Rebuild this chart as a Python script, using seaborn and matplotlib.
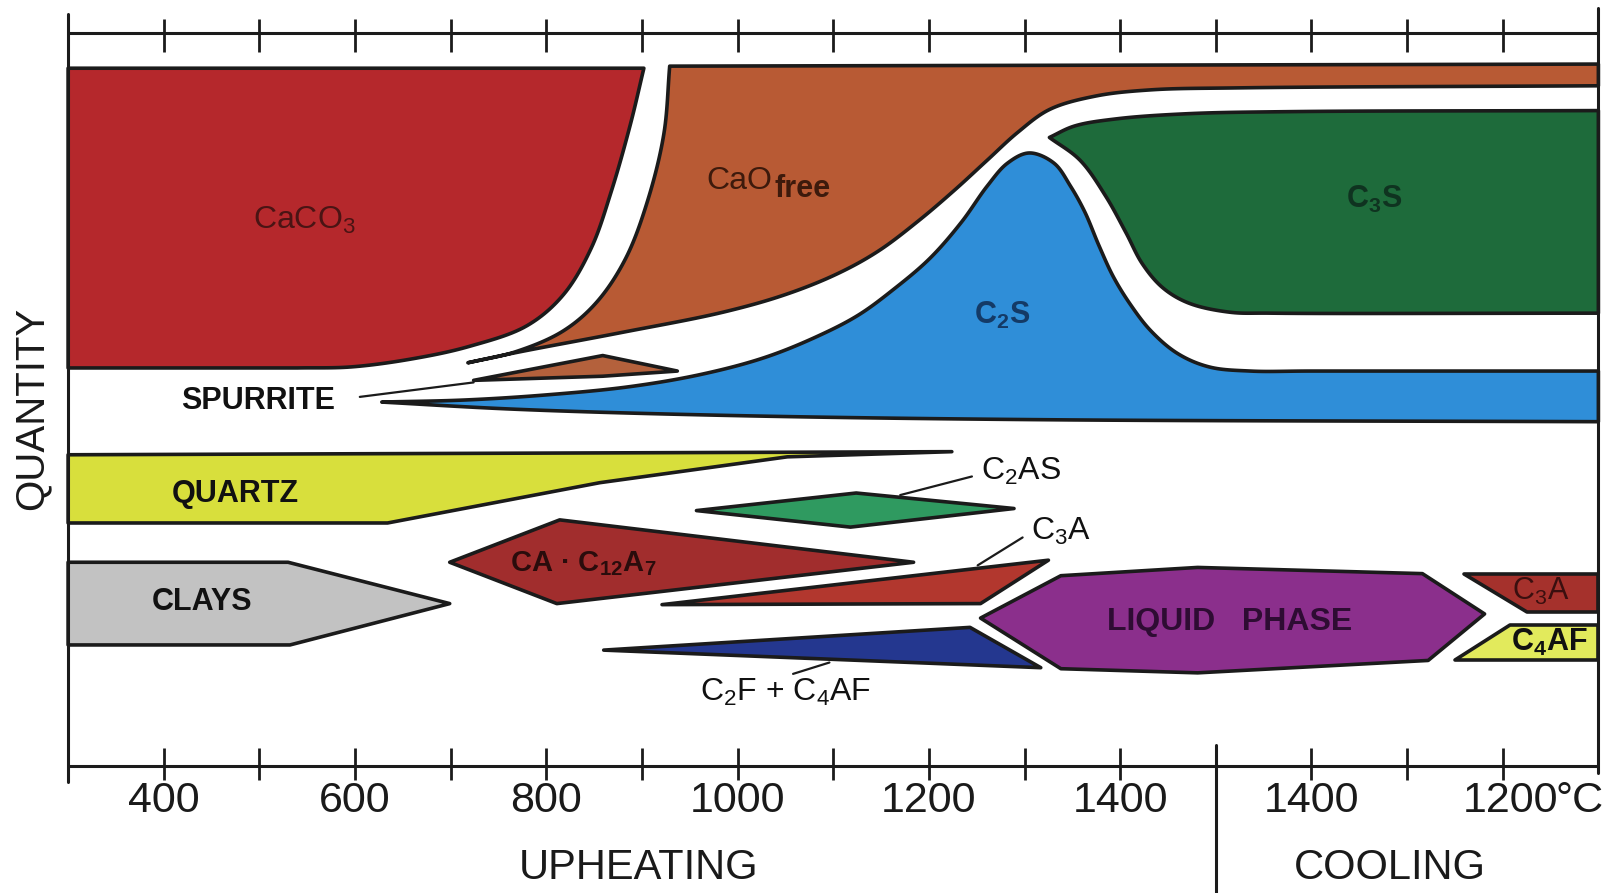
import numpy as np
import matplotlib
matplotlib.use("Agg")
import matplotlib.pyplot as plt
import seaborn as sns

# ---------------- data (x = temperature position: 300..1500 upheating, 1500..1900 = cooling 1500..1100 °C;
#                         y = relative quantity level) ----------------
caco3_curve_T = [902, 888, 868, 847, 818, 780, 720, 661, 596, 540]
caco3_curve_Q = [675, 621, 556, 501, 456, 426, 406, 394, 386, 385]

cao_left_T = [929, 923, 906, 883, 853, 818, 769, 718]
cao_left_Q = [677, 612, 547, 491, 449, 421, 401, 390]
cao_bottom_T = [718, 769, 877, 985, 1050, 1104, 1147, 1190, 1228, 1261, 1293, 1326, 1374, 1431, 1525, 1900]
cao_bottom_Q = [390, 400, 419, 439, 456, 476, 498, 528, 558, 586, 613, 635, 648, 654, 656, 658]
cao_top_right_Q = 679

c2s_top_T = [628, 715, 801, 888, 963, 1028, 1082, 1126, 1163, 1201, 1234, 1261, 1282, 1305,
             1331, 1348, 1363, 1378, 1393, 1411, 1432, 1460, 1493, 1536, 1600, 1900]
c2s_top_Q = [352, 354, 359, 367, 379, 395, 415, 436, 461, 491, 526, 561, 583, 593,
             583, 561, 536, 503, 473, 446, 421, 399, 386, 382, 382, 382]
c2s_bottom_T = [1900, 1309, 993, 769, 628]
c2s_bottom_Q = [333, 335, 339, 345, 352]

c3s_top_T = [1326, 1352, 1396, 1471, 1579, 1900]
c3s_top_Q = [608, 619, 626, 631, 633, 634]
c3s_bottom_T = [1900, 1558, 1514, 1471, 1444, 1423, 1406, 1385, 1358, 1326]
c3s_bottom_Q = [438, 438, 439, 448, 463, 486, 516, 551, 586, 608]

spurrite_T = [724, 859, 937, 859]
spurrite_Q = [373, 397, 382, 377]

quartz_T = [300, 1224, 1052, 856, 634, 300]
quartz_Q = [301, 304, 299, 274, 235, 235]

clays_T = [300, 530, 699, 532, 300]
clays_Q = [197, 197, 157, 117, 117]

ca_c12a7_T = [699, 814, 1184, 811]
ca_c12a7_Q = [197, 238, 197, 157]

c2as_T = [957, 1124, 1289, 1118]
c2as_Q = [247, 264, 249, 231]

c3a_heat_T = [921, 1325, 1254]
c3a_heat_Q = [156, 199, 157]

c2f_c4af_T = [860, 1243, 1317]
c2f_c4af_Q = [112, 134, 95]

liquid_T = [1254, 1338, 1481, 1716, 1781, 1722, 1481, 1338]
liquid_Q = [143, 184, 192, 186, 147, 102, 90, 94]

c3a_cool_T = [1760, 1900, 1900, 1825]
c3a_cool_Q = [186, 186, 149, 149]

c4af_cool_T = [1808, 1900, 1900, 1750]
c4af_cool_Q = [136, 136, 102, 102]

# leader lines
leader_spurrite_T = [605, 724]
leader_spurrite_Q = [357, 371]
leader_c2as_T = [1170, 1245]
leader_c2as_Q = [262, 280]
leader_c3a_T = [1251, 1298]
leader_c3a_Q = [194, 221]
leader_c2f_T = [1096, 1058]
leader_c2f_Q = [100, 89]

# axis ticks
top_ticks = [400, 500, 600, 700, 800, 900, 1000, 1100, 1200, 1300, 1400, 1500, 1600, 1700, 1800]
bottom_ticks = [400, 500, 600, 700, 800, 900, 1000, 1100, 1200, 1300, 1400, 1600, 1700, 1800]
tick_label_pos = [400, 600, 800, 1000, 1200, 1400, 1600]
tick_label_txt = ["400", "600", "800", "1000", "1200", "1400", "1400"]

# ---------------- style ----------------
sns.set_theme(style="white")
plt.rcParams['font.family'] = ['Liberation Sans', 'DejaVu Sans']
plt.rcParams['mathtext.default'] = 'regular'

EDGE = '#1b1b1b'
LW = 2.6


def cr(T, Q, n=14, alpha=0.5):
    """Centripetal Catmull-Rom path through the given points (drawing only)."""
    P = np.column_stack([T, Q]).astype(float)
    E = np.vstack([2 * P[0] - P[1], P, 2 * P[-1] - P[-2]])
    out = []
    for i in range(1, len(E) - 2):
        p0, p1, p2, p3 = E[i - 1], E[i], E[i + 1], E[i + 2]
        t0 = 0.0
        t1 = t0 + max(np.linalg.norm(p1 - p0), 1e-6) ** alpha
        t2 = t1 + max(np.linalg.norm(p2 - p1), 1e-6) ** alpha
        t3 = t2 + max(np.linalg.norm(p3 - p2), 1e-6) ** alpha
        t = np.linspace(t1, t2, n, endpoint=False)[:, None]
        A1 = (t1 - t) / (t1 - t0) * p0 + (t - t0) / (t1 - t0) * p1
        A2 = (t2 - t) / (t2 - t1) * p1 + (t - t1) / (t2 - t1) * p2
        A3 = (t3 - t) / (t3 - t2) * p2 + (t - t2) / (t3 - t2) * p3
        B1 = (t2 - t) / (t2 - t0) * A1 + (t - t0) / (t2 - t0) * A2
        B2 = (t3 - t) / (t3 - t1) * A2 + (t - t1) / (t3 - t1) * A3
        out.append((t2 - t) / (t2 - t1) * B1 + (t - t1) / (t2 - t1) * B2)
    out.append(P[-1:])
    return np.vstack(out)


fig = plt.figure(figsize=(16.2, 8.93), dpi=100)
ax = fig.add_axes([0, 0, 1, 1])
ax.set_xlim(228.8, 1922.6)
ax.set_ylim(-123, 741)
ax.axis('off')


def region(pts, color):
    pts = np.asarray(pts)
    ax.fill(pts[:, 0], pts[:, 1], facecolor=color, edgecolor=EDGE, linewidth=LW,
            joinstyle='round', zorder=3)


# CaCO3
cc = cr(caco3_curve_T, caco3_curve_Q)
region(np.vstack([[[300, caco3_curve_Q[0]]], cc, [[300, caco3_curve_Q[-1]]]]), '#b5282c')

# CaO free
left = cr(cao_left_T, cao_left_Q)
bot = cr(cao_bottom_T, cao_bottom_Q)
region(np.vstack([left, bot[1:], [[1900, cao_top_right_Q]]]), '#b85a34')

# C2S
top = cr(c2s_top_T, c2s_top_Q)
bot = cr(c2s_bottom_T, c2s_bottom_Q)
region(np.vstack([top, bot]), '#2f8ed8')

# C3S
top = cr(c3s_top_T, c3s_top_Q)
bot = cr(c3s_bottom_T, c3s_bottom_Q)
region(np.vstack([top, bot]), '#1e6b3b')

simple = [
    (spurrite_T, spurrite_Q, '#b4613c'),
    (quartz_T, quartz_Q, '#d8df3c'),
    (clays_T, clays_Q, '#c2c2c2'),
    (ca_c12a7_T, ca_c12a7_Q, '#a12d2d'),
    (c2as_T, c2as_Q, '#2f9a60'),
    (c3a_heat_T, c3a_heat_Q, '#b2372e'),
    (c2f_c4af_T, c2f_c4af_Q, '#24378f'),
    (liquid_T, liquid_Q, '#8b2f8c'),
    (c3a_cool_T, c3a_cool_Q, '#a5312c'),
    (c4af_cool_T, c4af_cool_Q, '#e2ea5c'),
]
for T, Q, c in simple:
    region(np.column_stack([T, Q]), c)

# leader lines
for T, Q in [(leader_spurrite_T, leader_spurrite_Q), (leader_c2as_T, leader_c2as_Q),
             (leader_c3a_T, leader_c3a_Q), (leader_c2f_T, leader_c2f_Q)]:
    sns.lineplot(x=T, y=Q, sort=False, estimator=None, color=EDGE, linewidth=1.6, ax=ax, zorder=4)

# frame
frame = [([300, 300], [727, -16]), ([300, 1900], [0, 0]), ([300, 1900], [709, 709]),
         ([1900, 1900], [733, -7]), ([1500, 1500], [20, -123])]
for T, Q in frame:
    sns.lineplot(x=T, y=Q, sort=False, estimator=None, color=EDGE, linewidth=2.2, ax=ax, zorder=5)
ax.vlines(top_ticks, 691, 723, color=EDGE, linewidth=2.0, zorder=5)
ax.vlines(bottom_ticks, -14, 17, color=EDGE, linewidth=2.0, zorder=5)

# tick labels
for p, s in zip(tick_label_pos, tick_label_txt):
    ax.text(p, -34, s, ha='center', va='center', fontsize=31, color='#1a1a1a', zorder=6)
ax.text(1808, -34, "1200", ha='center', va='center', fontsize=31, color='#1a1a1a')
ax.text(1855, -34, "°C", ha='left', va='center', fontsize=31, color='#1a1a1a')

ax.text(896, -99, "UPHEATING", ha='center', va='center', fontsize=30, color='#1a1a1a')
ax.text(1682, -99, "COOLING", ha='center', va='center', fontsize=30, color='#1a1a1a')
ax.text(262, 346, "QUANTITY", ha='center', va='center', fontsize=29, rotation=90, color='#1a1a1a')

# region labels
ax.text(547, 528, "CaCO$_3$", ha='center', va='center', fontsize=23, color='#4a1414', zorder=6)
ax.text(1002, 566, "CaO", ha='center', va='center', fontsize=23, color='#3d1a0c', zorder=6)
ax.text(1039, 558, "free", ha='left', va='center', fontsize=22, fontweight='bold', color='#3d1a0c', zorder=6)
ax.text(1666, 548, "C$_3$S", ha='center', va='center', fontsize=22, fontweight='bold', color='#0f3320', zorder=6)
ax.text(1277, 436, "C$_2$S", ha='center', va='center', fontsize=22, fontweight='bold', color='#143a66', zorder=6)
ax.text(499, 353, "SPURRITE", ha='center', va='center', fontsize=22, fontweight='bold', color='#111111', zorder=6)
ax.text(475, 263, "QUARTZ", ha='center', va='center', fontsize=22, fontweight='bold', color='#111111', zorder=6)
ax.text(440, 159, "CLAYS", ha='center', va='center', fontsize=22, fontweight='bold', color='#111111', zorder=6)
ax.text(839, 196, "CA · C$_{12}$A$_7$", ha='center', va='center', fontsize=21, fontweight='bold', color='#2a0c0c', zorder=6)
ax.text(1514, 139, "LIQUID   PHASE", ha='center', va='center', fontsize=23, fontweight='bold', color='#2e0c33', zorder=6)
ax.text(1840, 169, "C$_3$A", ha='center', va='center', fontsize=22, color='#3a0f0f', zorder=6)
ax.text(1849, 119, "C$_4$AF", ha='center', va='center', fontsize=22, fontweight='bold', color='#111111', zorder=6)
ax.text(1255, 285, "C$_2$AS", ha='left', va='center', fontsize=23, color='#111111', zorder=6)
ax.text(1307, 227, "C$_3$A", ha='left', va='center', fontsize=23, color='#111111', zorder=6)
ax.text(1050, 71, "C$_2$F + C$_4$AF", ha='center', va='center', fontsize=23, color='#111111', zorder=6)

fig.savefig("out.png", dpi=100, facecolor='white')
